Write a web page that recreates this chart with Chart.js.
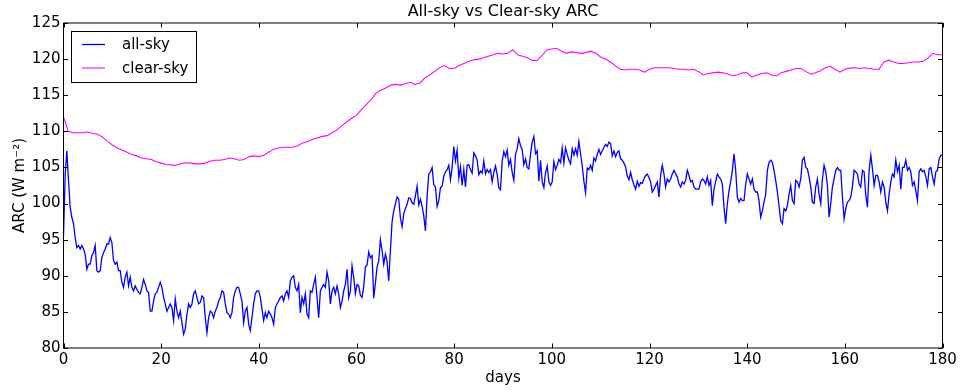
<!DOCTYPE html>
<html>
<head>
<meta charset="utf-8">
<script src="https://cdn.jsdelivr.net/npm/chart.js@4.4.1/dist/chart.umd.min.js"></script>
<style>
    html, body { margin: 0; padding: 0; background: #ffffff; }
    #wrap { width: 961px; height: 390px; }
</style>
</head>
<body>
<div id="wrap"><canvas id="chartArc" width="961" height="390"></canvas></div>
<script>
// all-sky ARC, one sample every 180/527 day
const allSkyStep = 180 / 527;
const allSky = [
    95.5, 104.0, 107.3, 103.2, 99.5, 98.1, 97.2, 95.3, 93.9, 94.2,
    93.7, 94.2, 93.7, 93.0, 90.9, 91.6, 91.6, 92.8, 93.2, 94.2,
    90.7, 90.5, 90.7, 92.5, 93.2, 93.7, 94.4, 94.4, 95.3, 94.6,
    92.1, 91.6, 91.9, 90.7, 90.7, 89.1, 88.4, 89.8, 90.5, 88.6,
    89.8, 88.4, 87.9, 88.6, 88.1, 87.7, 87.5, 88.4, 89.5, 88.8,
    87.9, 87.7, 85.1, 85.1, 86.5, 87.5, 87.7, 88.4, 89.1, 88.4,
    87.0, 86.1, 85.1, 85.6, 86.1, 85.6, 83.8, 86.8, 85.1, 84.2,
    85.1, 83.5, 81.9, 82.6, 84.7, 86.1, 85.6, 86.1, 87.5, 87.9,
    87.0, 86.1, 86.3, 87.2, 87.0, 84.2, 82.1, 84.2, 85.1, 84.9,
    84.2, 85.1, 85.6, 86.5, 87.0, 87.9, 87.7, 86.1, 84.9, 84.7,
    84.2, 84.9, 87.0, 87.9, 88.4, 88.4, 87.5, 86.5, 83.5, 85.1,
    85.6, 83.3, 82.4, 84.2, 86.1, 87.5, 87.9, 87.9, 87.0, 85.4,
    83.8, 84.9, 84.2, 85.1, 84.7, 84.2, 83.3, 85.6, 86.1, 86.5,
    87.0, 87.2, 86.5, 87.5, 87.9, 87.0, 89.3, 89.8, 90.0, 88.4,
    87.9, 88.8, 84.9, 87.0, 86.1, 87.5, 84.7, 84.2, 87.9, 87.7,
    88.8, 89.8, 87.0, 84.2, 87.9, 88.4, 88.8, 88.4, 90.5, 89.3,
    86.1, 87.9, 88.4, 87.5, 88.6, 87.5, 85.6, 86.5, 87.9, 88.8,
    90.9, 87.0, 87.9, 91.4, 89.8, 87.5, 88.8, 88.6, 87.3, 87.0,
    88.5, 91.2, 91.5, 93.3, 92.5, 92.8, 86.9, 89.0, 91.2, 92.1,
    95.0, 93.5, 91.6, 93.0, 92.0, 89.3, 93.5, 97.5, 99.0, 100.0,
    100.9, 100.6, 98.0, 96.8, 98.6, 99.3, 99.9, 100.8, 100.7, 100.1,
    99.9, 101.1, 102.4, 99.8, 100.6, 99.6, 98.3, 96.2, 101.0, 104.1,
    104.4, 105.0, 102.6, 102.3, 99.6, 100.4, 102.2, 102.4, 103.8, 104.4,
    104.7, 105.3, 103.3, 105.0, 107.9, 105.9, 107.4, 103.5, 105.1, 102.5,
    104.7, 102.3, 105.3, 105.4, 104.7, 104.2, 107.0, 106.6, 106.0, 104.0,
    104.5, 104.2, 105.9, 104.1, 104.7, 104.3, 104.7, 103.0, 104.3, 105.2,
    104.0, 102.2, 101.9, 105.9, 107.2, 106.5, 107.4, 105.3, 106.1, 104.3,
    103.2, 106.8, 107.6, 109.0, 108.0, 107.5, 105.4, 106.2, 105.0, 104.8,
    106.8, 108.5, 109.3, 106.9, 107.3, 103.1, 106.0, 103.0, 102.2, 104.3,
    105.2, 103.0, 102.5, 103.0, 105.8, 104.7, 105.3, 106.1, 105.7, 107.7,
    105.6, 107.7, 106.8, 106.0, 105.5, 107.6, 106.7, 107.6, 106.7, 108.6,
    106.9, 105.2, 103.1, 101.5, 104.9, 104.7, 105.3, 104.6, 106.3, 105.9,
    106.8, 107.5, 106.8, 107.3, 107.8, 108.2, 107.9, 108.5, 108.3, 106.6,
    107.3, 106.5, 107.1, 107.3, 106.2, 106.0, 105.6, 105.1, 103.8, 103.3,
    104.3, 103.3, 102.6, 102.0, 103.1, 102.4, 102.9, 102.8, 103.4, 103.9,
    104.1, 103.6, 103.0, 101.6, 102.0, 102.5, 103.0, 100.9, 103.9, 105.3,
    104.1, 102.3, 103.4, 103.0, 103.4, 104.1, 104.6, 104.1, 103.7, 102.7,
    102.3, 103.0, 102.7, 103.2, 104.6, 103.9, 103.0, 103.2, 102.3, 102.0,
    102.0, 102.0, 103.0, 103.4, 103.2, 102.7, 103.7, 102.5, 103.2, 99.7,
    102.0, 103.0, 104.1, 103.7, 103.4, 102.7, 99.5, 97.2, 100.0, 101.8,
    103.0, 104.6, 106.9, 104.6, 100.9, 100.2, 100.7, 100.4, 100.4, 102.7,
    104.1, 103.4, 102.7, 103.4, 102.0, 101.6, 101.6, 100.4, 98.1, 99.0,
    100.2, 101.3, 104.6, 105.7, 106.0, 105.7, 104.6, 103.2, 101.6, 99.7,
    97.6, 97.2, 99.3, 99.0, 99.7, 101.3, 102.5, 100.4, 100.0, 103.2,
    103.0, 102.3, 103.4, 106.0, 106.4, 105.0, 104.8, 103.7, 102.3, 100.2,
    100.0, 102.3, 103.4, 101.3, 100.0, 103.4, 105.3, 104.4, 102.5, 98.1,
    100.0, 102.3, 103.4, 104.6, 105.0, 104.6, 104.6, 100.9, 97.9, 99.3,
    100.2, 100.4, 100.9, 102.3, 104.6, 104.4, 104.1, 102.7, 102.3, 104.6,
    104.4, 101.1, 99.5, 104.6, 106.7, 104.8, 102.5, 103.9, 103.9, 103.0,
    101.6, 103.0, 102.3, 100.2, 99.0, 101.3, 103.0, 104.1, 103.7, 106.0,
    104.4, 105.3, 102.0, 105.0, 105.0, 106.0, 104.6, 105.0, 104.4, 102.5,
    103.0, 101.8, 100.4, 104.4, 104.8, 104.4, 104.6, 103.7, 102.5, 104.8,
    105.0, 103.7, 102.7, 104.4, 104.6, 106.2, 106.7, 106.7
];

// clear-sky ARC, one sample per day
const clearSkyStep = 1;
const clearSky = [
    112.0, 110.0, 109.8, 109.8, 109.8, 109.9, 109.7, 109.6, 109.2, 108.6,
    108.1, 107.7, 107.4, 107.1, 106.8, 106.6, 106.3, 106.2, 106.1, 105.8,
    105.6, 105.4, 105.35, 105.3, 105.5, 105.65, 105.6, 105.5, 105.5, 105.6,
    105.85, 106.0, 106.0, 106.1, 106.3, 106.2, 106.0, 106.1, 106.5, 106.6,
    106.5, 106.7, 107.1, 107.5, 107.7, 107.8, 107.8, 107.8, 108.0, 108.4,
    108.6, 108.9, 109.1, 109.3, 109.4, 109.8, 110.2, 110.8, 111.3, 111.8,
    112.2, 113.0, 113.7, 114.4, 115.3, 115.7, 116.0, 116.4, 116.5, 116.4,
    116.6, 116.8, 116.5, 116.7, 117.4, 117.8, 118.3, 118.8, 119.1, 118.7,
    118.7, 119.1, 119.4, 119.7, 119.9, 120.0, 120.2, 120.4, 120.6, 120.8,
    120.7, 120.8, 121.3, 120.6, 120.4, 120.2, 119.8, 119.8, 120.5, 121.3,
    121.4, 121.5, 121.1, 120.8, 121.0, 120.9, 120.8, 120.9, 121.1, 120.8,
    120.3, 120.0, 119.6, 119.1, 118.6, 118.5, 118.6, 118.6, 118.5, 118.2,
    118.6, 118.8, 118.8, 118.8, 118.8, 118.7, 118.6, 118.6, 118.5, 118.6,
    118.3, 117.8, 118.0, 118.1, 118.2, 118.1, 117.95, 117.7, 117.8, 118.1,
    118.1, 117.5, 117.8, 118.0, 118.1, 117.8, 117.7, 118.1, 118.3, 118.5,
    118.7, 118.7, 118.3, 117.9, 118.1, 118.4, 118.8, 119.0, 118.6, 118.2,
    118.6, 118.75, 118.8, 118.7, 118.8, 118.7, 118.6, 118.6, 119.6, 119.85,
    119.6, 119.4, 119.4, 119.5, 119.6, 119.6, 119.7, 120.1, 120.8, 120.6,
    120.6
];

const xTickValues = [0, 20, 40, 60, 80, 100, 120, 140, 160, 180];
const yTickValues = [80, 85, 90, 95, 100, 105, 110, 115, 120, 125];

var ARC_Chart = function () {
    const fontFamily = '"DejaVu Sans", "Liberation Sans", sans-serif';
    const titleText = 'All-sky vs Clear-sky ARC';

    // matplotlib-like box: frame, inward ticks on all sides, title and legend
    const frameTicks = {
        id: 'frameTicks',
        afterDraw: function (chart) {
            const ctx = chart.ctx;
            const a = chart.chartArea;
            const xs = chart.scales.x;
            const ys = chart.scales.y;
            const tl = 4.5;

            ctx.save();
            ctx.strokeStyle = '#000000';
            ctx.lineWidth = 1;
            ctx.strokeRect(a.left, a.top, a.right - a.left, a.bottom - a.top);

            ctx.beginPath();
            for (let t of xTickValues) {
                let px = Math.round(xs.getPixelForValue(t)) + 0.5;
                ctx.moveTo(px, a.bottom); ctx.lineTo(px, a.bottom - tl);
                ctx.moveTo(px, a.top); ctx.lineTo(px, a.top + tl);
            }
            for (let t of yTickValues) {
                let py = Math.round(ys.getPixelForValue(t)) + 0.5;
                ctx.moveTo(a.left, py); ctx.lineTo(a.left + tl, py);
                ctx.moveTo(a.right, py); ctx.lineTo(a.right - tl, py);
            }
            ctx.stroke();

            // title
            ctx.fillStyle = '#000000';
            ctx.font = '16px ' + fontFamily;
            ctx.textAlign = 'center';
            ctx.textBaseline = 'middle';
            ctx.fillText(titleText, (a.left + a.right) / 2, 12);

            // legend
            ctx.font = '15px ' + fontFamily;
            const bx = 71.5, by = 31.5, bw = 125, bh = 51;
            ctx.fillStyle = '#ffffff';
            ctx.fillRect(bx, by, bw, bh);
            ctx.strokeStyle = '#000000';
            ctx.strokeRect(bx, by, bw, bh);
            let rowY = [44.5, 68];
            chart.data.datasets.forEach(function (ds, i) {
                ctx.strokeStyle = ds.borderColor;
                ctx.lineWidth = ds.borderWidth;
                ctx.beginPath();
                ctx.moveTo(82, rowY[i]);
                ctx.lineTo(105, rowY[i]);
                ctx.stroke();
                ctx.fillStyle = '#000000';
                ctx.textAlign = 'left';
                ctx.fillText(ds.label, 122, rowY[i] + 1);
            });
            ctx.restore();
        }
    };

    this.DrawChart = function () {
        let ptsAll = allSky.map(function (v, i) { return { x: i * allSkyStep, y: v }; });
        let ptsClear = clearSky.map(function (v, i) { return { x: i * clearSkyStep, y: v }; });

        let ctx = document.getElementById('chartArc').getContext('2d');

        new Chart(ctx, {
            type: 'line',
            data: {
                datasets: [
                    {
                        label: 'all-sky',
                        data: ptsAll,
                        borderColor: '#0000ff',
                        borderWidth: 1.3,
                        pointRadius: 0,
                        tension: 0,
                        fill: false
                    },
                    {
                        label: 'clear-sky',
                        data: ptsClear,
                        borderColor: '#ff00ff',
                        borderWidth: 1.1,
                        pointRadius: 0,
                        tension: 0,
                        fill: false
                    }
                ]
            },
            plugins: [frameTicks],
            options: {
                responsive: false,
                animation: false,
                layout: {
                    padding: { top: 23, right: 18.5, left: 0, bottom: 0 }
                },
                plugins: {
                    legend: { display: false },
                    title: { display: false },
                    tooltip: { enabled: false }
                },
                scales: {
                    x: {
                        type: 'linear',
                        min: 0,
                        max: 180,
                        afterFit: function (scale) { scale.height = 42; },
                        grid: { display: false, drawTicks: false },
                        border: { display: false },
                        ticks: {
                            stepSize: 20,
                            autoSkip: false,
                            maxRotation: 0,
                            padding: 3,
                            color: '#000000',
                            font: { family: fontFamily, size: 15 }
                        },
                        title: {
                            display: true,
                            text: 'days',
                            color: '#000000',
                            padding: { top: 0, bottom: 3 },
                            font: { family: fontFamily, size: 15 }
                        }
                    },
                    y: {
                        min: 80,
                        max: 125,
                        afterFit: function (scale) { scale.width = 63.5; },
                        grid: { display: false, drawTicks: false },
                        border: { display: false },
                        ticks: {
                            stepSize: 5,
                            autoSkip: false,
                            padding: 3,
                            color: '#000000',
                            font: { family: fontFamily, size: 15 }
                        },
                        title: {
                            display: true,
                            text: 'ARC (W m⁻²)',
                            color: '#000000',
                            padding: { top: 11, bottom: 0 },
                            font: { family: fontFamily, size: 15 }
                        }
                    }
                }
            }
        });
    }
};

var arcChart = new ARC_Chart();
arcChart.DrawChart();
</script>
</body>
</html>
